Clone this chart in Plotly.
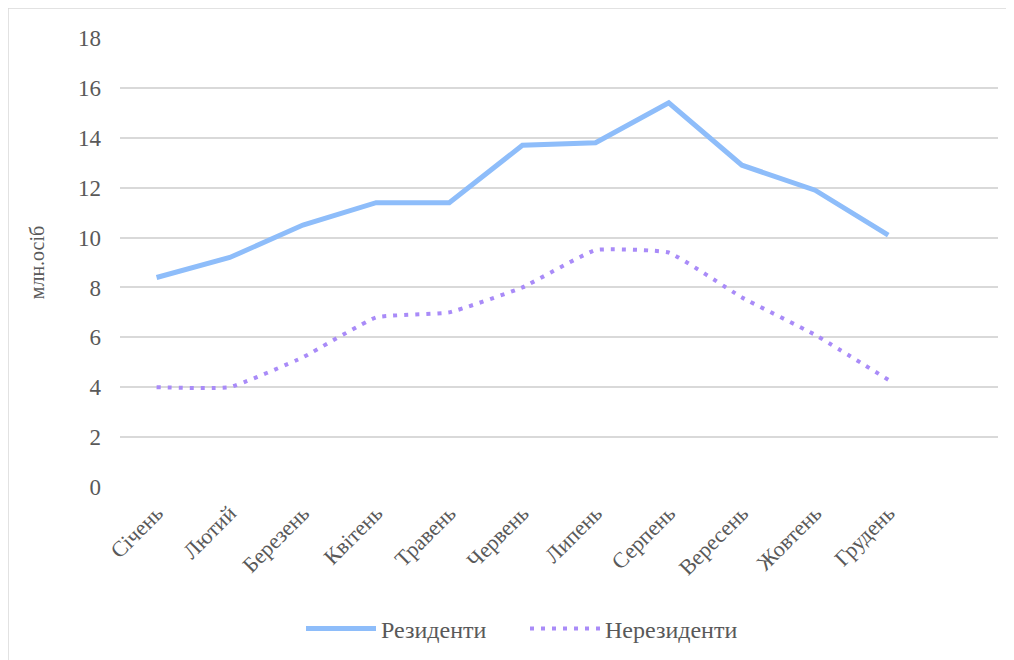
import plotly.graph_objects as go

months = ["Січень", "Лютий", "Березень", "Квітень", "Травень", "Червень",
          "Липень", "Серпень", "Вересень", "Жовтень", "Грудень"]
residents = [8.4, 9.2, 10.5, 11.4, 11.4, 13.7, 13.8, 15.4, 12.9, 11.9, 10.1]
nonresidents = [4.0, 4.0, 5.2, 6.8, 7.0, 8.0, 9.5, 9.4, 7.6, 6.1, 4.3]
y_ticks = [0, 2, 4, 6, 8, 10, 12, 14, 16, 18]

xs = list(range(len(months)))
FONT = "Liberation Serif, Times New Roman, DejaVu Serif, serif"
TXT = "#595959"

fig = go.Figure()
fig.add_trace(go.Scatter(
    x=xs, y=residents, name="Резиденти", mode="lines",
    line=dict(color="#8ebdfa", width=5)))
fig.add_trace(go.Scatter(
    x=xs, y=nonresidents, name="Нерезиденти", mode="lines",
    line=dict(color="#a98bf8", width=4, dash="4px,7px", shape="spline", smoothing=0.35)))

fig.update_layout(
    width=1006, height=652,
    margin=dict(l=112, r=16, t=30, b=173, autoexpand=False),
    paper_bgcolor="white", plot_bgcolor="white",
    font=dict(family=FONT, color=TXT, size=19),
    showlegend=True,
    legend=dict(orientation="h", x=(298 - 5 - 112) / 878, xanchor="left", y=-0.316, yanchor="middle",
                font=dict(family=FONT, size=24, color=TXT), itemwidth=70,
                entrywidth=139, entrywidthmode="pixels"),
    xaxis=dict(range=[-0.5, 11.5], tickmode="array", tickvals=xs, ticktext=months,
               tickangle=-45, showgrid=False, zeroline=False, showline=False,
               ticks="", automargin=False, ticklabelstandoff=8,
               tickfont=dict(family=FONT, size=22, color=TXT)),
    yaxis=dict(range=[0, 18], tickmode="array", tickvals=y_ticks,
               showgrid=True, gridcolor="#d9d9d9", gridwidth=1.5,
               zeroline=False, showline=False, ticks="", automargin=False,
               ticklabelstandoff=18,
               tickfont=dict(family=FONT, size=23, color=TXT),
               title=dict(text="млн.осіб", font=dict(family=FONT, size=20, color=TXT), standoff=28)),
)
fig.add_shape(type="rect", xref="paper", yref="paper",
              x0=-112/878, x1=1.2, y0=-0.6, y1=1 + 30/449,
              line=dict(color="#d9d9d9", width=1.5), fillcolor="rgba(0,0,0,0)", layer="below")

fig.write_html("out.html")
